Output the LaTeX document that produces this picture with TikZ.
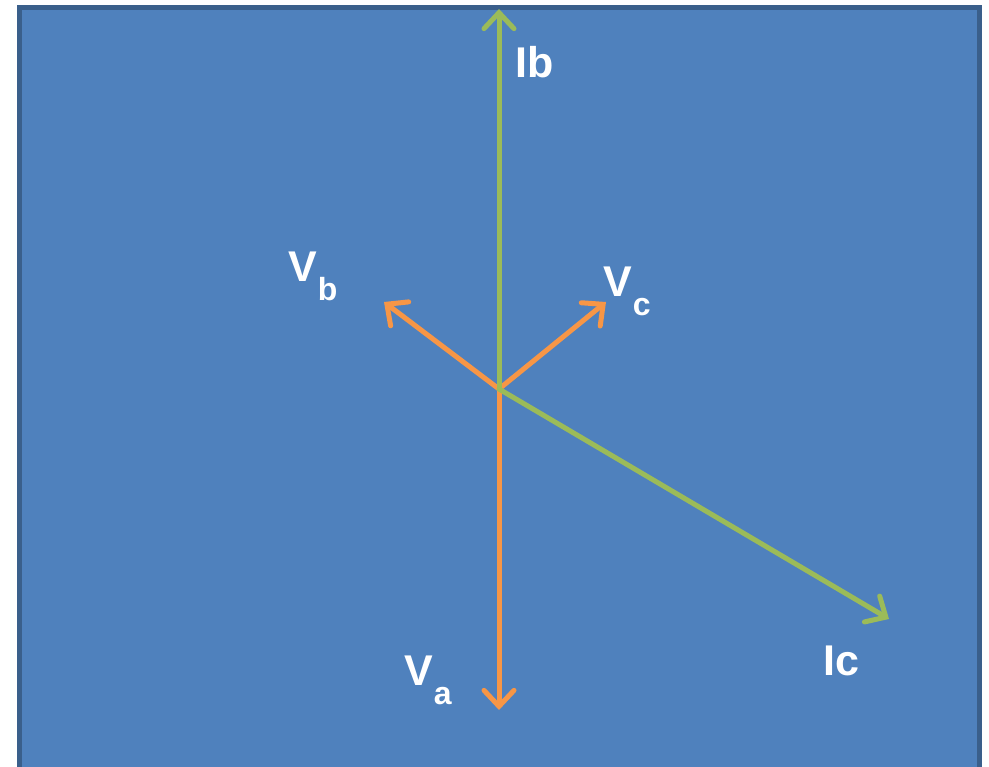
\documentclass[tikz,border=0pt]{standalone}
\usepackage{fontspec}
\setmainfont{Liberation Sans}
\usetikzlibrary{arrows.meta}
\definecolor{panelblue}{HTML}{4F81BD}
\definecolor{paneledge}{HTML}{3A5F8B}
\definecolor{phgreen}{HTML}{9BBB59}
\definecolor{phorange}{HTML}{F79646}
\newcommand{\lowsub}[1]{\kern1pt\raisebox{-19pt}{\fontsize{32}{32}\selectfont #1}}
\begin{document}
\begin{tikzpicture}[x=1pt,y=-1pt,
  every node/.style={font=\fontsize{43}{48}\selectfont\bfseries,text=white,inner sep=0pt,anchor=base west},
  phasor/.style={line width=5pt,line cap=round,-{Straight Barb[length=16pt,width=30pt,line cap=round]}}]
\useasboundingbox (0,0) rectangle (989,767);
\clip (0,0) rectangle (989,767);
\draw[paneledge,line width=5pt,fill=panelblue] (19.5,7.5) rectangle (979.5,800);
% phasor tips, all from the common origin
\coordinate (o) at (499,389);
\coordinate (va) at (499,710);
\coordinate (vb) at (384,302);
\coordinate (vc) at (606,302);
\coordinate (ib) at (499,9);
\coordinate (ic) at (889,619);
\foreach \tip/\col in {va/phorange,vb/phorange,vc/phorange,ib/phgreen,ic/phgreen}
  \draw[phasor,\col] (o) -- (\tip);
% labels
\node (lib) at (515,78) {Ib};
\node (lic) at (823,675) {Ic};
\node (lva) at (404,685) {V\lowsub{a}};
\node (lvb) at (288,282) {V\lowsub{b}};
\node (lvc) at (603,297) {V\lowsub{c}};
\end{tikzpicture}
\end{document}
